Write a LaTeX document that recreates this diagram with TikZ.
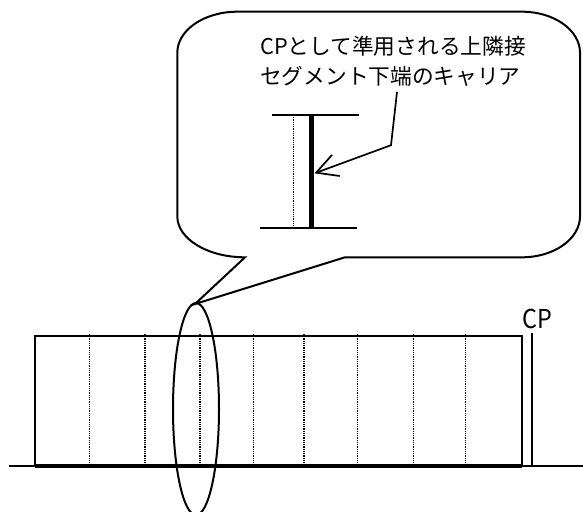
\documentclass[tikz,border=0pt]{standalone}
\usepackage{fontspec}
\newfontfamily\jp{Noto Sans CJK JP}
\usetikzlibrary{arrows.meta}
\begin{document}
\begin{tikzpicture}[x=1pt,y=-1pt,
  outline/.style={line width=2pt, line join=miter},
  thinline/.style={line width=1.7pt},
  dots/.style={line width=1.2pt, dash pattern=on 1pt off 0.8pt},
  lbl/.style={font=\jp\fontsize{21.7}{21.7}\selectfont, inner sep=0pt, anchor=base west},
  cplbl/.style={font=\jp\fontsize{26}{26}\selectfont, inner sep=0pt, anchor=base west},
  barb/.style={-{Straight Barb[length=21pt,width=22.5pt]}}]
\useasboundingbox (0,0) rectangle (583,511);

% ---------- callout ----------
\coordinate (tip) at (195,304);
\coordinate (tailL) at (245,257.3);
\coordinate (tailR) at (345,257.3);
\draw[outline] (177.3,52.7) .. controls (177.3,30.1) and (204.2,11.7) .. (237.3,11.7)
  -- (522,11.7) .. controls (554,11.7) and (580,30.1) .. (580,52.7)
  -- (580,216.3) .. controls (580,238.9) and (554,257.3) .. (522,257.3)
  -- (tailR) -- (tip) -- (tailL)
  .. controls (207.6,257.3) and (177.3,238.9) .. (177.3,216.3) -- cycle;

\node[lbl] (t1) at (260,55) {CPとして準用される上隣接};
\node[lbl] (t2) at (260,84) {セグメント下端のキャリア};

% inner detail
\coordinate (it1) at (271.5,115);
\coordinate (it2) at (358.5,115);
\coordinate (ib1) at (260,227.7);
\coordinate (ib2) at (356.7,227.7);
\draw[thinline] (it1) -- (it2);
\draw[thinline] (ib1) -- (ib2);
\coordinate (dT) at (293.3,115);
\coordinate (dB) at (293.3,227.7);
\draw[dots] (dT) -- (dB);
\coordinate (cT) at (311.7,115);
\coordinate (cB) at (311.7,229);
\draw[line width=5pt] (cT) -- (cB);

% arrow
\coordinate (a0) at (397,92);
\coordinate (a1) at (391,145.2);
\coordinate (a2) at (314.5,173.3);
\draw[thinline, barb] (a0) -- (a1) -- (a2);

% ---------- lower part ----------
\coordinate (g1) at (9,466.3);
\coordinate (g2) at (583,466.3);
\draw[thinline] (g1) -- (g2);

\coordinate (rBL) at (35,466);
\coordinate (rTL) at (35,336);
\coordinate (rTR) at (521.7,336);
\coordinate (rBR) at (521.7,466);
\draw[outline] (rBL) -- (rTL) -- (rTR) -- (rBR);
\draw[line width=3.2pt] (rBL) -- (rBR);

\foreach \xx in {89.3,145,200,253.5,304,357.6,413.4,465.4}{
  \draw[dots] (\xx,334) -- (\xx,465);
}

\coordinate (cpT) at (531.7,333);
\coordinate (cpB) at (531.7,466.3);
\draw[thinline] (cpT) -- (cpB);
\node[cplbl] (cp) at (522,328) {\scalebox{0.9}[1]{CP}};

% ellipse
\draw[outline] (196,409) ellipse [x radius=23pt, y radius=106pt];
\end{tikzpicture}
\end{document}
